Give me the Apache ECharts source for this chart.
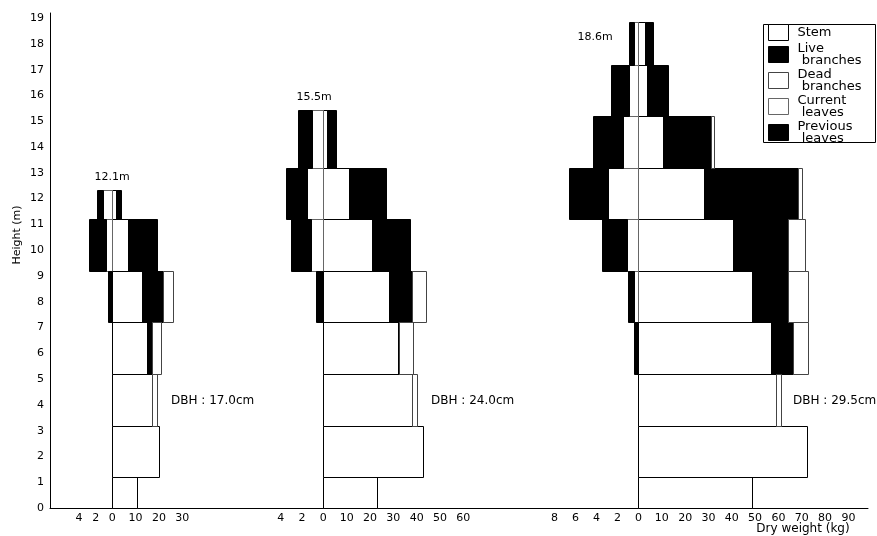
<!DOCTYPE html>
<html>
<head>
<meta charset="utf-8">
<script src="https://cdn.jsdelivr.net/npm/echarts@6/dist/echarts.min.js"></script>
<style>
  html, body { margin: 0; padding: 0; background: #fff; }
  #chart { width: 877px; height: 536px; }
</style>
</head>
<body>
<div id="chart"></div>
<script>
// lower edge of each height layer (m)
var layerBottoms = [0, 1.2, 3.2, 5.2, 7.2, 9.2, 11.2, 13.2, 15.2, 17.2];
var treeTops = [12.35, 15.45, 18.85];
var treeHeightLabels = ["12.1m", "15.5m", "18.6m"];
var dbhLabels = ["DBH : 17.0cm", "DBH : 24.0cm", "DBH : 29.5cm"];

// dry weight per layer (kg), bottom layer first
var stem1 = [10.5, 19.9, 17.1, 14.7, 12.6, 6.9, 1.5];
var liveBranches1 = [0, 0, 0, 2.4, 9.0, 12.4, 2.2];
var deadBranches1 = [0, 0, 2.2, 3.6, 4.5, 0, 0];
var currentLeaves1 = [0, 0, 0, 0, 0, 0.76, 1.08];
var previousLeaves1 = [0, 0, 0, 0, 0.48, 2.01, 0.8];

var stem2 = [22.8, 42.8, 37.9, 32.1, 28.3, 20.9, 11.1, 1.4];
var liveBranches2 = [0, 0, 0.3, 0.3, 9.8, 16.2, 15.7, 4.0];
var deadBranches2 = [0, 0, 2.1, 6.2, 6.1, 0, 0, 0];
var currentLeaves2 = [0, 0, 0, 0, 0, 1.17, 1.5, 1.11];
var previousLeaves2 = [0, 0, 0, 0, 0.73, 1.91, 2.02, 1.31];

var stem3 = [48.6, 72.3, 58.8, 56.6, 48.8, 40.5, 28.0, 10.5, 3.7, 2.9];
var liveBranches3 = [0, 0, 0.3, 9.7, 15.3, 23.6, 40.2, 20.8, 9.0, 3.4];
var deadBranches3 = [0, 0, 2.2, 6.4, 8.6, 7.2, 1.9, 1.0, 0, 0];
var currentLeaves3 = [0, 0, 0, 0, 0.4, 1.14, 2.95, 1.5, 0.9, 0.45];
var previousLeaves3 = [0, 0, 0, 0.45, 0.59, 2.38, 3.67, 2.83, 1.68, 0.41];

// axis tick labels: leaves (left of 0) and stem/branches (right of 0)
var leafTicks = [[4, 2], [4, 2], [8, 6, 4, 2]];
var weightTicks = [
  [0, 10, 20, 30],
  [0, 10, 20, 30, 40, 50, 60],
  [0, 10, 20, 30, 40, 50, 60, 70, 80, 90]
];
var heightTicks = [0, 1, 2, 3, 4, 5, 6, 7, 8, 9, 10, 11, 12, 13, 14, 15, 16, 17, 18, 19];

var trees = [
  { stem: stem1, live: liveBranches1, dead: deadBranches1, cur: currentLeaves1, prev: previousLeaves1 },
  { stem: stem2, live: liveBranches2, dead: deadBranches2, cur: currentLeaves2, prev: previousLeaves2 },
  { stem: stem3, live: liveBranches3, dead: deadBranches3, cur: currentLeaves3, prev: previousLeaves3 }
];

// where each tree's 0 sits on the shared x axis, and how much wider leaves are drawn
var treeZero = [26.7, 117.2, 252.3];
var leafStretch = [3.56, 4.56, 4.5];
var xMax = 350.7;

var FONT = "DejaVu Sans";

// build rectangles [x0, x1, y0, y1]
var rects = { stem: [], live: [], dead: [], cur: [], prev: [] };
trees.forEach(function (t, ti) {
  var z = treeZero[ti], k = leafStretch[ti];
  t.stem.forEach(function (s, b) {
    var y0 = layerBottoms[b];
    var y1 = b + 1 < t.stem.length ? layerBottoms[b + 1] : treeTops[ti];
    var x = z;
    [["stem", s], ["live", t.live[b]], ["dead", t.dead[b]]].forEach(function (p) {
      if (p[1] > 0) { rects[p[0]].push([x, x + p[1], y0, y1]); x += p[1]; }
    });
    var xl = z;
    [["cur", t.cur[b]], ["prev", t.prev[b]]].forEach(function (p) {
      if (p[1] > 0) { rects[p[0]].push([xl - p[1] * k, xl, y0, y1]); xl -= p[1] * k; }
    });
  });
});

// x axis labels
var xLabelPos = [], xLabelText = {};
trees.forEach(function (t, ti) {
  leafTicks[ti].forEach(function (v) {
    var p = treeZero[ti] - v * leafStretch[ti];
    xLabelPos.push(p); xLabelText[p.toFixed(3)] = String(v);
  });
  weightTicks[ti].forEach(function (v) {
    var p = treeZero[ti] + v;
    xLabelPos.push(p); xLabelText[p.toFixed(3)] = String(v);
  });
});

var parts = [
  { key: "stem", name: "Stem", fill: "#fff", stroke: "#000" },
  { key: "live", name: "Live branches", fill: "#000", stroke: "#000" },
  { key: "dead", name: "Dead branches", fill: "#fff", stroke: "#444" },
  { key: "cur", name: "Current leaves", fill: "#fff", stroke: "#666" },
  { key: "prev", name: "Previous leaves", fill: "#000", stroke: "#000" }
];
var legendText = {
  "Stem": "Stem",
  "Live branches": "Live\n branches",
  "Dead branches": "Dead\n branches",
  "Current leaves": "Current\n leaves",
  "Previous leaves": "Previous\n leaves"
};

var myChart = echarts.init(document.getElementById("chart"));

var series = parts.map(function (p) {
  return {
    type: "custom",
    name: p.name,
    itemStyle: { color: p.fill, borderColor: p.stroke, borderWidth: 1 },
    encode: { x: [0, 1], y: [2, 3] },
    data: rects[p.key],
    renderItem: function (params, api) {
      var a = api.coord([api.value(0), api.value(3)]);
      var b = api.coord([api.value(1), api.value(2)]);
      var x0 = Math.round(a[0]) + 0.5, x1 = Math.round(b[0]) + 0.5;
      var y0 = Math.round(a[1]) + 0.5, y1 = Math.round(b[1]) + 0.5;
      return {
        type: "rect",
        shape: { x: x0, y: y0, width: x1 - x0, height: y1 - y0 },
        style: { fill: p.fill, stroke: p.stroke, lineWidth: 1 }
      };
    }
  };
});

var option = {
  animation: false,
  grid: { left: 50, right: 9, top: 13, bottom: 28 },
  xAxis: {
    type: "value",
    min: 0,
    max: xMax,
    splitLine: { show: false },
    axisTick: { show: false },
    axisLine: { lineStyle: { color: "#000", width: 1 } },
    axisLabel: {
      customValues: xLabelPos,
      formatter: function (v) { return xLabelText[v.toFixed(3)] || ""; },
      color: "#000",
      fontFamily: FONT,
      fontSize: 11,
      margin: 5
    }
  },
  yAxis: {
    type: "value",
    min: 0,
    max: 19.2,
    splitLine: { show: false },
    axisTick: { show: false },
    axisLine: { show: true, lineStyle: { color: "#000", width: 1 } },
    axisLabel: {
      customValues: heightTicks,
      color: "#000",
      fontFamily: FONT,
      fontSize: 11,
      margin: 6
    }
  },
  legend: {
    orient: "vertical",
    left: 768,
    top: 24,
    padding: 0,
    itemGap: 1,
    itemWidth: 20,
    itemHeight: 16,
    selectedMode: false,
    icon: "rect",
    formatter: function (n) { return legendText[n]; },
    textStyle: { color: "#000", fontFamily: FONT, fontSize: 13, lineHeight: 12, padding: [0, 0, 0, 4] },
    data: parts.map(function (p) {
      return { name: p.name, itemStyle: { color: p.fill, borderColor: p.stroke, borderWidth: 1 } };
    })
  },
  graphic: [
    { type: "rect", left: 761, top: 22, shape: { width: 112, height: 118 },
      style: { fill: null, stroke: "#000", lineWidth: 1 } },
    { type: "text", x: 17, y: 235, rotation: Math.PI / 2,
      style: { text: "Height (m)", font: "11px " + FONT, fill: "#000", align: "center", verticalAlign: "middle" } },
    { type: "text", x: 112, y: 177, style: { text: treeHeightLabels[0], font: "11px " + FONT, fill: "#000", align: "center", verticalAlign: "middle" } },
    { type: "text", x: 314, y: 97, style: { text: treeHeightLabels[1], font: "11px " + FONT, fill: "#000", align: "center", verticalAlign: "middle" } },
    { type: "text", x: 595, y: 37, style: { text: treeHeightLabels[2], font: "11px " + FONT, fill: "#000", align: "center", verticalAlign: "middle" } },
    { type: "text", x: 171, y: 401, style: { text: dbhLabels[0], font: "12px " + FONT, fill: "#000", verticalAlign: "middle" } },
    { type: "text", x: 431, y: 401, style: { text: dbhLabels[1], font: "12px " + FONT, fill: "#000", verticalAlign: "middle" } },
    { type: "text", x: 793, y: 401, style: { text: dbhLabels[2], font: "12px " + FONT, fill: "#000", verticalAlign: "middle" } },
    { type: "text", x: 803, y: 529, style: { text: "Dry weight (kg)", font: "12px " + FONT, fill: "#000", align: "center", verticalAlign: "middle" } }
  ],
  series: series
};

myChart.setOption(option);
window.addEventListener("resize", myChart.resize);
</script>
</body>
</html>
